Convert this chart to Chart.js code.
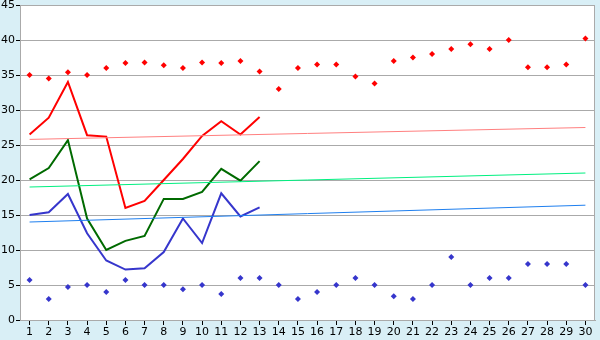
<!DOCTYPE html>
<html>
<head>
<meta charset="utf-8">
<script src="https://cdn.jsdelivr.net/npm/chart.js@4/dist/chart.umd.min.js"></script>
<style>
html,body{margin:0;padding:0;background:#d9eff6;}
#wrap{width:600px;height:340px;position:relative;}
</style>
</head>
<body>
<div id="wrap"><canvas id="c" width="600" height="340"></canvas></div>
<script>
const labels = ['1','2','3','4','5','6','7','8','9','10','11','12','13','14','15','16','17','18','19','20','21','22','23','24','25','26','27','28','29','30'];
const maxPoints = [35,34.5,35.4,35,36,36.7,36.8,36.4,36,36.8,36.7,37,35.5,33,36,36.5,36.5,34.8,33.8,37,37.5,38,38.7,39.4,38.7,40,36.1,36.1,36.5,40.2];
const minPoints = [5.7,3,4.7,5,4,5.7,5,5,4.4,5,3.7,6,6,5,3,4,5,6,5,3.4,3,5,9,5,6,6,8,8,8,5];
const redLine = [26.5,28.9,34,26.4,26.2,16,17,20,23,26.3,28.4,26.5,29];
const greenLine = [20.1,21.7,25.7,14.5,10,11.3,12,17.3,17.3,18.3,21.6,19.9,22.7];
const blueLine = [15,15.4,18,12.4,8.5,7.2,7.4,9.7,14.5,11,18.1,14.8,16.1];
const trendEnds = ['1','30'];
const redTrend = [25.8,27.5];
const greenTrend = [19,21];
const blueTrend = [14,16.4];
const yTicks = [0,5,10,15,20,25,30,35,40,45];

const pair = (xs, ys) => xs.map((x,i)=>({x:x,y:ys[i]}));

const bgPlugin = {
  id:'bg',
  beforeDraw(chart){
    const {ctx, chartArea:a} = chart;
    ctx.save();
    ctx.fillStyle = '#d9eff6';
    ctx.fillRect(0,0,chart.width,chart.height);
    ctx.fillStyle = '#ffffff';
    ctx.fillRect(a.left,a.top,a.right-a.left,a.bottom-a.top);
    ctx.restore();
  },
  afterDatasetsDraw(chart){
    const {ctx, chartArea:a} = chart;
    ctx.save();
    ctx.strokeStyle = '#aaaaaa';
    ctx.lineWidth = 1;
    ctx.beginPath();
    ctx.moveTo(Math.round(a.right)-0.5, a.top);
    ctx.lineTo(Math.round(a.right)-0.5, a.bottom);
    ctx.stroke();
    ctx.restore();
  }
};

new Chart(document.getElementById('c'), {
  type:'line',
  data:{
    labels: labels,
    datasets:[
      {data: pair(trendEnds, redTrend), borderColor:'#ff8080', borderWidth:1, pointRadius:0, fill:false},
      {data: pair(trendEnds, greenTrend), borderColor:'#00f080', borderWidth:1, pointRadius:0, fill:false},
      {data: pair(trendEnds, blueTrend), borderColor:'#1f7fef', borderWidth:1, pointRadius:0, fill:false},
      {data: redLine, borderColor:'#ff0000', borderWidth:2, pointRadius:0, fill:false},
      {data: greenLine, borderColor:'#006a00', borderWidth:2, pointRadius:0, fill:false},
      {data: blueLine, borderColor:'#3636cc', borderWidth:2, pointRadius:0, fill:false},
      {data: maxPoints, showLine:false, pointStyle:'rectRot', pointRadius:3, pointBorderWidth:0, pointBackgroundColor:'#ff0000', pointBorderColor:'#ff0000'},
      {data: minPoints, showLine:false, pointStyle:'rectRot', pointRadius:3, pointBorderWidth:0, pointBackgroundColor:'#3636cc', pointBorderColor:'#3636cc'}
    ]
  },
  options:{
    responsive:false,
    animation:false,
    events:[],
    layout:{padding:{top:5,right:5,left:0,bottom:0}},
    plugins:{legend:{display:false},tooltip:{enabled:false}},
    scales:{
      x:{
        type:'category',
        offset:true,
        grid:{display:true, drawOnChartArea:false, drawTicks:true, offset:false, tickLength:5, tickColor:'#000000'},
        border:{display:true, color:'#aaaaaa'},
        ticks:{color:'#000000', font:{family:'DejaVu Sans', size:11}, padding:1, maxRotation:0, autoSkip:false},
        afterFit(s){ s.height = 20; s.paddingLeft=0; s.paddingRight=0; }
      },
      y:{
        min:0, max:45,
        afterBuildTicks(s){ s.ticks = yTicks.map(v=>({value:v})); },
        grid:{color:'#aaaaaa', drawTicks:true, tickLength:4, tickColor:'#000000'},
        border:{display:true, color:'#aaaaaa'},
        ticks:{color:'#000000', font:{family:'DejaVu Sans', size:11}, padding:1},
        afterFit(s){ s.width = 20; s.paddingTop=0; s.paddingBottom=0; }
      }
    }
  },
  plugins:[bgPlugin]
});
</script>
</body>
</html>
